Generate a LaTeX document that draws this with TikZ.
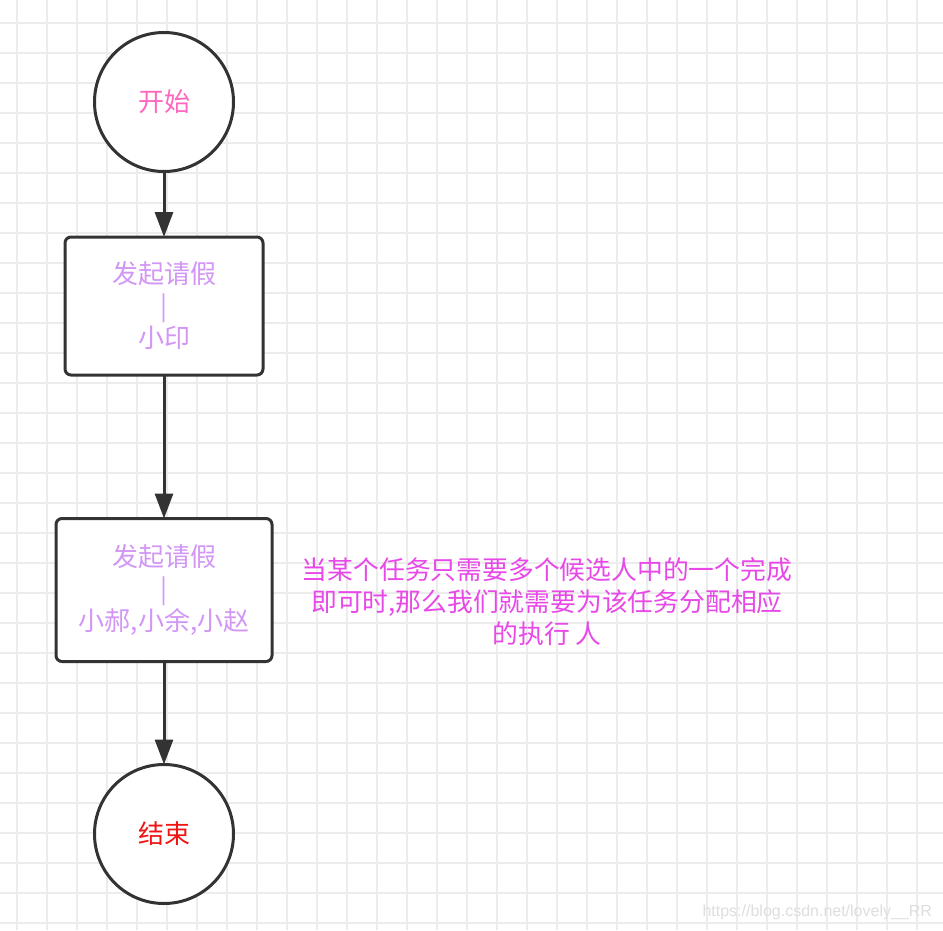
\documentclass[tikz,border=0pt]{standalone}
\usepackage{fontspec}
\setmainfont{Noto Sans CJK SC}
\newfontfamily\wmfont{Liberation Sans}
\usetikzlibrary{arrows.meta}
\definecolor{gridc}{RGB}{236,236,236}
\definecolor{linec}{RGB}{51,51,51}
\definecolor{startc}{RGB}{255,102,190}
\definecolor{boxc}{RGB}{210,150,245}
\definecolor{notec}{RGB}{232,72,232}
\definecolor{endc}{RGB}{240,20,20}
\definecolor{wmc}{RGB}{222,222,222}
\tikzset{
  every node/.style={inner sep=0pt, outer sep=0pt},
  term/.style={circle, draw=linec, line width=3pt, fill=white, minimum size=139pt},
  procbox/.style={rectangle, rounded corners=6pt, draw=linec, line width=3pt, fill=white, align=center, text=boxc, font=\fontsize{26pt}{32pt}\selectfont},
  flow/.style={draw=linec, line width=3pt, -{Triangle[length=25pt,width=18pt]}},
  notetext/.style={align=center, text=notec, font=\fontsize{25.8pt}{32pt}\selectfont},
}
\begin{document}
\begin{tikzpicture}[x=1pt,y=-1pt]
\useasboundingbox (0,0) rectangle (943,930);
\fill[white] (0,0) rectangle (943,930);
\foreach \gx in {17,47,...,940} \draw[gridc, line width=1.3pt] (\gx,0) -- (\gx,930);
\foreach \gy in {23,53,...,930} \draw[gridc, line width=1.3pt] (0,\gy) -- (943,\gy);
\node[term, text=startc, font=\fontsize{26pt}{28pt}\selectfont] (start) at (164,102) {开始};
\node[procbox, minimum width=198pt, minimum height=138pt] (b1) at (164,306) {发起请假\\|\\小印};
\node[procbox, minimum width=216pt, minimum height=143pt] (b2) at (164,590) {发起请假\\|\\小郝,小余,小赵};
\node[term, text=endc, font=\fontsize{26pt}{28pt}\selectfont] (end) at (164,834) {结束};
\node[notetext] (note) at (547,602) {当某个任务只需要多个候选人中的一个完成\\即可时,那么我们就需要为该任务分配相应\\的执行 人};
\node[anchor=east, text=wmc, font=\wmfont\fontsize{16pt}{18pt}\selectfont] (wm) at (932,912) {https://blog.csdn.net/lovely\_\_RR};
\draw[flow] (start) -- (b1);
\draw[flow] (b1) -- (b2);
\draw[flow] (b2) -- (end);
\end{tikzpicture}
\end{document}
